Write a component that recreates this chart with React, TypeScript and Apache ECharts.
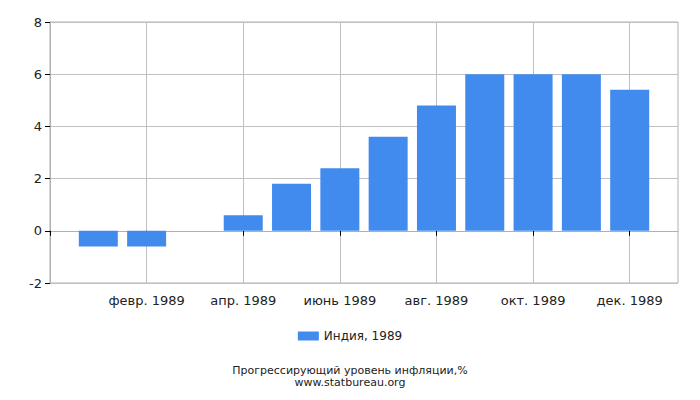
import React, { useEffect, useRef } from "react";
import * as echarts from "echarts";

const categories = [
  "",
  "янв. 1989",
  "февр. 1989",
  "март 1989",
  "апр. 1989",
  "май 1989",
  "июнь 1989",
  "июль 1989",
  "авг. 1989",
  "сент. 1989",
  "окт. 1989",
  "нояб. 1989",
  "дек. 1989",
  "",
];
const values: (number | null)[] = [null, -0.6, -0.6, 0, 0.6, 1.8, 2.4, 3.6, 4.8, 6.0, 6.0, 6.0, 5.4, null];
const seriesName = "Индия, 1989";
const yMin = -2;
const yMax = 8;
const yInterval = 2;
const titleLines = ["Прогрессирующий уровень инфляции,%", "www.statbureau.org"];

const FONT = "DejaVu Sans";

export default function App() {
  const ref = useRef<HTMLDivElement>(null);
  useEffect(() => {
    if (!ref.current) return;
    const chart = echarts.init(ref.current, undefined, { renderer: "svg" });
    const everyOther = (i: number) => i % 2 === 0;
    chart.setOption({
      animation: false,
      textStyle: { fontFamily: FONT },
      grid: {
        left: 50,
        right: 22,
        top: 22,
        bottom: 117,
        show: true,
        borderColor: "#b0b0b0",
        borderWidth: 1,
      },
      title: titleLines.map((t, i) => ({
        text: t,
        left: "center",
        top: 365 + i * 12,
        padding: 0,
        textStyle: {
          fontFamily: FONT,
          fontSize: 11,
          fontWeight: "normal",
          color: "#222",
          lineHeight: 11,
        },
      })),
      legend: {
        bottom: 53,
        left: "center",
        itemWidth: 21,
        itemHeight: 9,
        itemGap: 5,
        icon: "rect",
        textStyle: { fontFamily: FONT, fontSize: 12, color: "#222" },
        data: [seriesName],
      },
      xAxis: {
        type: "category",
        data: categories,
        boundaryGap: false,
        axisLine: { lineStyle: { color: "#b0b0b0" } },
        axisTick: { interval: everyOther, length: 5, lineStyle: { color: "#000" } },
        axisLabel: {
          interval: everyOther,
          color: "#222",
          fontSize: 13,
          fontFamily: FONT,
          margin: 11,
        },
        splitLine: { show: true, interval: everyOther, lineStyle: { color: "#c0c0c0" } },
      },
      yAxis: {
        type: "value",
        min: yMin,
        max: yMax,
        interval: yInterval,
        axisLine: { show: true, lineStyle: { color: "#b0b0b0" } },
        axisTick: { show: true, length: 5, lineStyle: { color: "#000" } },
        axisLabel: { color: "#222", fontSize: 13, fontFamily: FONT, margin: 8 },
        splitLine: { lineStyle: { color: "#c0c0c0" } },
      },
      series: [
        {
          name: seriesName,
          type: "bar",
          data: values,
          barWidth: 39,
          itemStyle: { color: "#428BEE" },
        },
      ],
    });
    return () => chart.dispose();
  }, []);
  return <div ref={ref} style={{ width: 700, height: 400, margin: -8 }} />;
}
